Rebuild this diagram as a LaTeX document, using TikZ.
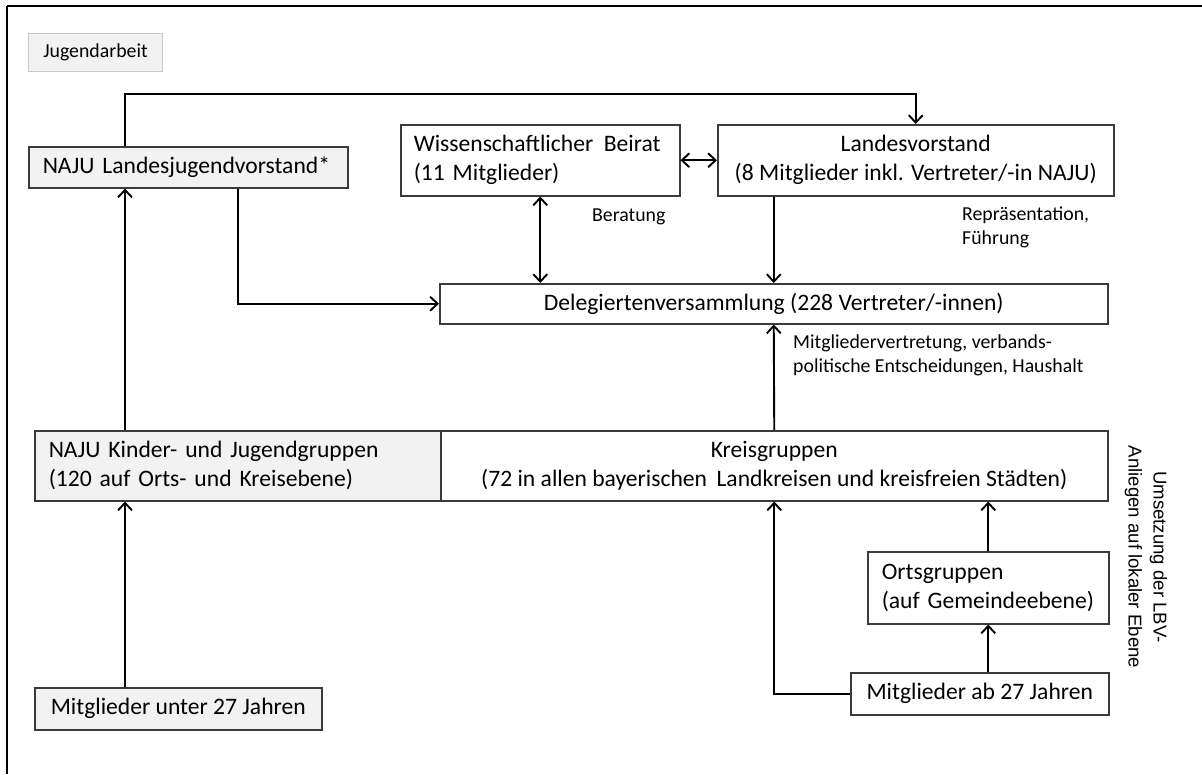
\documentclass[tikz,border=0pt]{standalone}
\usepackage{fontspec}
\setmainfont{Carlito}
\newfontfamily\arialfam{Liberation Sans}
\usetikzlibrary{arrows.meta}
\definecolor{gfill}{HTML}{F2F2F2}
\definecolor{boxline}{HTML}{3A3A3A}
\definecolor{jugline}{HTML}{C8C8C8}
\newcommand{\boxfnt}{\fontsize{23.6}{29}\selectfont}
\newcommand{\lblfnt}{\fontsize{19.8}{24}\selectfont}
\newcommand{\rotfnt}{\arialfam\fontsize{18.6}{25}\selectfont}
\tikzset{
  box/.style={draw=boxline, line width=1.5pt, fill=white, inner sep=0pt, font=\boxfnt, anchor=north west},
  gbox/.style={box, fill=gfill},
  arr/.style={line width=1.9pt, -{Straight Barb[length=7.5pt,width=14pt]}},
  darr/.style={line width=1.9pt, {Straight Barb[length=7.5pt,width=14pt]}-{Straight Barb[length=7.5pt,width=14pt]}},
  lbl/.style={font=\lblfnt, anchor=west, align=left, inner sep=0pt}
}
\begin{document}
\begin{tikzpicture}[x=1pt,y=-1pt]
\useasboundingbox (0,0) rectangle (1202,774);
% frame
\draw[line width=2.6pt] (7,6) -- (1202,6);
\draw[line width=2pt] (7,6) -- (7,774);
% boxes
\node[box, draw=jugline, line width=1pt, fill=gfill, font=\lblfnt, minimum width=134pt, minimum height=38pt] (jug) at (28,33) {Jugendarbeit};
\node[gbox, minimum width=319pt, minimum height=41pt, text width=291pt, align=left] (ljv) at (28,146) {NAJU Landesjugendvorstand*};
\node[box, minimum width=279pt, minimum height=71pt, text width=253pt, align=left] (wb) at (400,124) {Wissenschaftlicher\hspace{0.45em}Beirat\\(11 Mitglieder)};
\node[box, minimum width=396pt, minimum height=71pt, align=center] (lv) at (717,124) {Landesvorstand\\(8 Mitglieder inkl. Vertreter/-in NAJU)};
\node[box, minimum width=668pt, minimum height=40pt, align=center] (deleg) at (439,283) {Delegiertenversammlung (228 Vertreter/-innen)};
\node[gbox, minimum width=406pt, minimum height=70pt, text width=378pt, align=left] (kinder) at (34,430) {NAJU Kinder- und Jugendgruppen\\(120 auf Orts- und Kreisebene)};
\node[box, minimum width=667pt, minimum height=70pt, align=center] (kreis) at (440,430) {Kreisgruppen\\(72 in allen bayerischen\hspace{0.4em}Landkreisen und kreisfreien Städten)};
\node[box, minimum width=241pt, minimum height=72pt, text width=213pt, align=left] (orts) at (867,551) {Ortsgruppen\\\mbox{(auf Gemeindeebene)}};
\node[box, minimum width=258pt, minimum height=42pt, align=center] (ab27) at (850,672) {Mitglieder ab 27 Jahren};
\node[gbox, minimum width=287pt, minimum height=42pt, align=center] (unter27) at (34,687) {Mitglieder unter 27 Jahren};
% labels
\node[lbl] (berat) at (592,217) {Beratung};
\node[lbl] (repr) at (962,227) {Repräsentation,\\Führung};
\node[lbl] (mitgl) at (793,355) {Mitgliedervertretung, verbands-\\politische Entscheidungen, Haushalt};
\node[rotate=-90, font=\rotfnt, align=center, inner sep=0pt] (ums) at (1146,557) {Umsetzung der LBV-\\Anliegen auf lokaler Ebene};
% connector helpers
\coordinate (cA) at (125,94);
\coordinate (cB) at (238,0);
% connectors
\draw[arr] (ljv.north -| cA) -- (cA) -| (lv.north);
\draw[darr] (wb.east) -- (lv.west);
\draw[darr] (wb.south) -- (wb.south |- deleg.north);
\draw[arr] (lv.south -| deleg.north) -- (deleg.north);
\draw[arr] (ljv.south -| cB) |- (deleg.west);
\draw[arr] (kreis.north) -- (deleg.south);
\draw[arr] (kinder.north -| cA) -- (ljv.south -| cA);
\draw[arr] (unter27.north -| cA) -- (kinder.south -| cA);
\draw[arr] (ab27.west) -| (kreis.south);
\draw[arr] (ab27.north -| orts.south) -- (orts.south);
\draw[arr] (orts.north) -- (orts.north |- kreis.south);
\end{tikzpicture}
\end{document}
